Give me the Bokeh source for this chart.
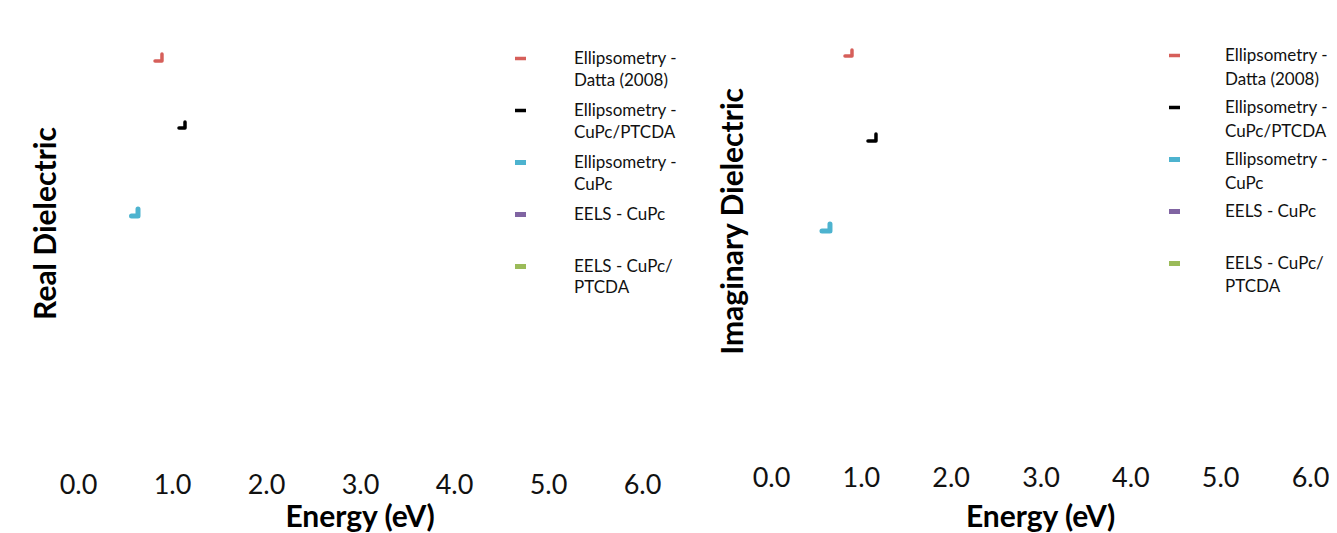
from bokeh.plotting import figure
from bokeh.layouts import row
from bokeh.models import Legend, LegendItem, FixedTicker, Range1d, LinearAxis
from bokeh.embed import file_html
from bokeh.resources import INLINE

# ---------------- data ----------------
# legend text: first and second line of every series name
series_line1 = ["Ellipsometry -", "Ellipsometry -", "Ellipsometry -", "EELS - CuPc", "EELS - CuPc/"]
series_line2 = ["Datta (2008)", "CuPc/PTCDA", "CuPc", " ", "PTCDA"]
series_colors = ["#D65F5A", "#000000", "#4DB3CF", "#8064A2", "#9BBB59"]
series_widths = [3.5, 3.5, 5, 5, 5]

x_ticks = [0, 1, 2, 3, 4, 5, 6]
x_tick_labels = ["0.0", "1.0", "2.0", "3.0", "4.0", "5.0", "6.0"]
x_title = "Energy (eV)"
x_title_pos = 3.0

NAN = float("nan")

# Real dielectric panel
real_datta_e = [0.814, 0.888, 0.888]
real_datta_v = [3.836, 3.836, 3.905]
real_cupc_ptcda_e = [1.069, 1.133, 1.133]
real_cupc_ptcda_v = [3.169, 3.169, 3.229]
real_cupc_e = [0.564, 0.633, 0.633]
real_cupc_v = [2.294, 2.294, 2.363]
real_eels_cupc_e = [NAN]
real_eels_cupc_v = [NAN]
real_eels_cupc_ptcda_e = [NAN]
real_eels_cupc_ptcda_v = [NAN]

# Imaginary dielectric panel
imag_datta_e = [0.818, 0.896, 0.896]
imag_datta_v = [3.884, 3.884, 3.945]
imag_cupc_ptcda_e = [1.074, 1.163, 1.163]
imag_cupc_ptcda_v = [3.028, 3.028, 3.098]
imag_cupc_e = [0.562, 0.651, 0.651]
imag_cupc_v = [2.121, 2.121, 2.191]
imag_eels_cupc_e = [NAN]
imag_eels_cupc_v = [NAN]
imag_eels_cupc_ptcda_e = [NAN]
imag_eels_cupc_ptcda_v = [NAN]

real_series = [(real_datta_e, real_datta_v), (real_cupc_ptcda_e, real_cupc_ptcda_v),
               (real_cupc_e, real_cupc_v), (real_eels_cupc_e, real_eels_cupc_v),
               (real_eels_cupc_ptcda_e, real_eels_cupc_ptcda_v)]
imag_series = [(imag_datta_e, imag_datta_v), (imag_cupc_ptcda_e, imag_cupc_ptcda_v),
               (imag_cupc_e, imag_cupc_v), (imag_eels_cupc_e, imag_eels_cupc_v),
               (imag_eels_cupc_ptcda_e, imag_eels_cupc_ptcda_v)]

FONT = "Lato"


def style_legend(leg, standoff):
    leg.padding = 0
    leg.margin = 0
    leg.spacing = 31
    leg.border_line_color = None
    leg.background_fill_alpha = 0
    leg.glyph_width = 11
    leg.glyph_height = 20
    leg.label_height = 20
    leg.label_standoff = standoff
    leg.label_text_font = FONT
    leg.label_text_font_size = "17px"
    leg.label_text_color = "#111111"


def make_panel(ylabel, series, frame_w, frame_h, x_end, y_end, b_left,
               ylabel_standoff, tick_standoff, title_standoff,
               legend_loc1, legend_loc2, leg_standoff):
    p = figure(frame_width=frame_w, frame_height=frame_h,
               x_range=Range1d(0, x_end), y_range=Range1d(0, y_end),
               output_backend="svg", toolbar_location=None,
               min_border_left=b_left, min_border_right=0,
               min_border_top=0, min_border_bottom=0)
    p.outline_line_color = None
    p.grid.visible = False

    # y axis: only the title
    ya = p.yaxis[0]
    ya.ticker = FixedTicker(ticks=[])
    ya.axis_line_color = None
    ya.major_tick_line_color = None
    ya.minor_tick_line_color = None
    ya.major_tick_out = 0
    ya.major_label_standoff = 0
    ya.axis_label = ylabel
    ya.axis_label_standoff = ylabel_standoff
    ya.axis_label_text_font = FONT
    ya.axis_label_text_font_size = "30px"
    ya.axis_label_text_font_style = "bold"
    ya.axis_label_text_color = "#000000"

    # x axis: tick labels
    ax = p.xaxis[0]
    ax.ticker = FixedTicker(ticks=x_ticks)
    ax.major_label_overrides = {t: l for t, l in zip(x_ticks, x_tick_labels)}
    ax.axis_line_color = None
    ax.major_tick_line_color = None
    ax.minor_tick_line_color = None
    ax.major_tick_out = 0
    ax.major_label_standoff = tick_standoff
    ax.major_label_text_font = FONT
    ax.major_label_text_font_size = "27px"
    ax.major_label_text_color = "#111111"

    # second x axis carrying the title centred on x = 3.0
    ax2 = LinearAxis(ticker=FixedTicker(ticks=[x_title_pos]),
                     major_label_overrides={x_title_pos: x_title})
    ax2.axis_line_color = None
    ax2.major_tick_line_color = None
    ax2.minor_tick_line_color = None
    ax2.major_tick_out = 0
    ax2.major_label_standoff = title_standoff
    ax2.major_label_text_font = FONT
    ax2.major_label_text_font_size = "30px"
    ax2.major_label_text_font_style = "bold"
    ax2.major_label_text_color = "#000000"
    p.add_layout(ax2, "below")

    items1, items2 = [], []
    for (xs, ys), l1, l2, col, w in zip(series, series_line1, series_line2,
                                         series_colors, series_widths):
        r = p.line(xs, ys, line_color=col, line_width=w, line_cap="round", line_join="round")
        items1.append(LegendItem(label=l1, renderers=[r]))
        items2.append(LegendItem(label=l2, renderers=[]))

    leg1 = Legend(items=items1, location=legend_loc1)
    style_legend(leg1, leg_standoff)
    p.add_layout(leg1)
    leg2 = Legend(items=items2, location=legend_loc2)
    style_legend(leg2, leg_standoff)
    p.add_layout(leg2)
    return p


left = make_panel("Real Dielectric", real_series, 612, 446, 612 / 94.0, 446 / 100.5,
                  78, 17, 27, 0, (437, 170), (437, 149), 48)
right = make_panel("Imaginary Dielectric", imag_series, 558, 441, 558 / 89.83, 441 / 99.25,
                   81, 23, 25, 7, (398, 168), (398, 145), 45)

layout = row(left, right)
open("out.html", "w").write(file_html(layout, INLINE))
